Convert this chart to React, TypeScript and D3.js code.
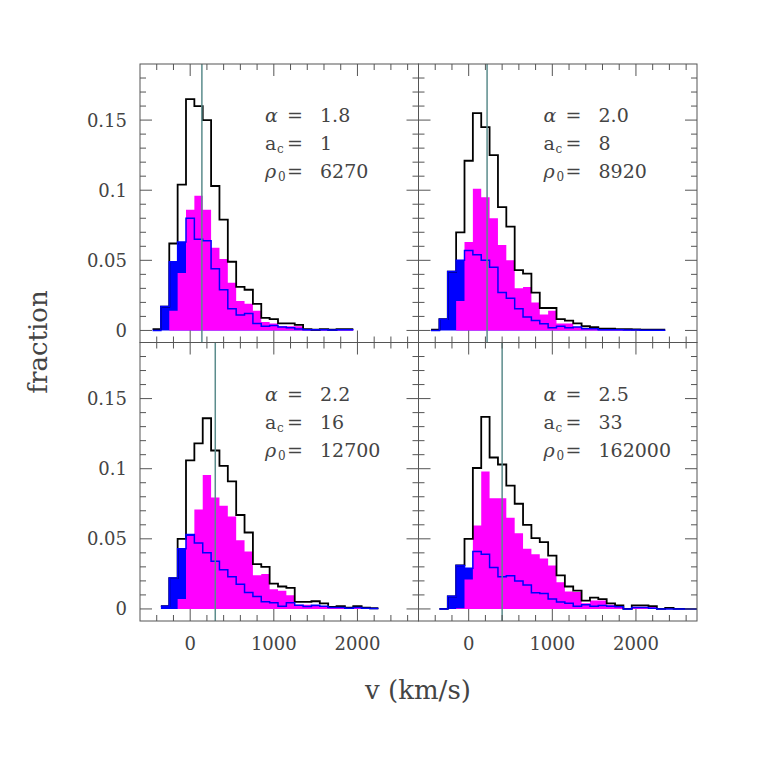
import React from "react";
import * as d3 from "d3";

const binCenters = [-400, -300, -200, -100, 0, 100, 200, 300, 400, 500, 600, 700, 800, 900, 1000, 1100, 1200, 1300, 1400, 1500, 1600, 1700, 1800, 1900, 2000, 2100, 2200, 2300, 2400, 2500, 2600, 2700];

const n = null;
// Panel 1: alpha 1.8
const blue1 = [0, 0.017, 0.049, 0.063, 0.080, 0.065, 0.064, 0.044, 0.029, 0.0155, 0.011, 0.012, 0.005, 0.003, 0.0035, 0.0025, 0.002, 0.001, 0.0005, 0.0005, 0.0005, 0.0003, 0.0005, 0.0005, n, n, n, n, n, n, n, n];
const magenta1 = [0, 0, 0.014, 0.041, 0.086, 0.096, 0.086, 0.059, 0.051, 0.034, 0.021, 0.019, 0.014, 0.006, 0.005, 0.003, 0.003, 0.003, 0.0008, 0.0005, 0.0008, 0.0005, 0.0008, 0.001, n, n, n, n, n, n, n, n];
const black1 = [0.001, 0.017, 0.062, 0.104, 0.165, 0.160, 0.150, 0.103, 0.079, 0.049, 0.031, 0.029, 0.019, 0.009, 0.008, 0.005, 0.005, 0.004, 0.001, 0.0005, 0.001, 0.0005, 0.001, 0.001, n, n, n, n, n, n, n, n];
// Panel 2: alpha 2.0
const blue2 = [0, 0.008, 0.042, 0.050, 0.057, 0.054, 0.050, 0.045, 0.027, 0.023, 0.0155, 0.0095, 0.007, 0.0048, 0.002, 0.003, 0.002, 0.0024, 0.0012, 0.0012, 0.0005, 0.0005, 0.0005, 0.0003, 0.0003, 0.0002, 0.0002, 0.0002, n, n, n, n];
const magenta2 = [0, 0, 0, 0.021, 0.063, 0.101, 0.095, 0.080, 0.061, 0.050, 0.030, 0.031, 0.020, 0.0114, 0.014, 0.005, 0.005, 0.0024, 0.0017, 0.001, 0.001, 0.001, 0.001, 0.001, 0.0005, 0.0005, 0.0005, 0.0003, n, n, n, n];
const black2 = [0.0005, 0.008, 0.042, 0.070, 0.121, 0.155, 0.145, 0.125, 0.088, 0.074, 0.043, 0.0405, 0.027, 0.016, 0.016, 0.008, 0.007, 0.005, 0.003, 0.0024, 0.0012, 0.0012, 0.001, 0.001, 0.0008, 0.0006, 0.0006, 0.0005, n, n, n, n];
// Panel 3: alpha 2.2
const blue3 = [n, 0.002, 0.022, 0.043, 0.053, 0.047, 0.040, 0.034, 0.028, 0.023, 0.0176, 0.0117, 0.0088, 0.0052, 0.0045, 0.002, 0.0045, 0.0026, 0.0017, 0.0026, 0.002, 0.001, 0.001, 0.0005, 0.001, 0.0005, 0.0003, n, n, n, n, n];
const magenta3 = [n, 0, 0, 0.007, 0.052, 0.071, 0.0955, 0.0795, 0.0736, 0.066, 0.049, 0.041, 0.024, 0.025, 0.014, 0.013, 0.0098, 0.003, 0.003, 0.002, 0.002, 0.001, 0.001, 0.0005, 0.001, 0.0005, 0.0003, n, n, n, n, n];
const black3 = [n, 0.002, 0.022, 0.050, 0.106, 0.118, 0.136, 0.113, 0.102, 0.091, 0.067, 0.0545, 0.032, 0.030, 0.018, 0.016, 0.015, 0.005, 0.005, 0.0055, 0.004, 0.0015, 0.002, 0.001, 0.002, 0.001, 0.0005, n, n, n, n, n];
// Panel 4: alpha 2.5
const blue4 = [n, 0, 0.009, 0.031, 0.029, 0.041, 0.039, 0.0295, 0.023, 0.0236, 0.020, 0.017, 0.0115, 0.011, 0.007, 0.005, 0.004, 0.002, 0.003, 0.002, 0.0025, 0.002, 0.0015, 0, 0.001, 0.001, 0.0005, 0, 0, 0, 0, 0];
const magenta4 = [n, 0, 0, 0.0005, 0.021, 0.0595, 0.098, 0.079, 0.079, 0.065, 0.054, 0.043, 0.039, 0.036, 0.031, 0.019, 0.0124, 0.012, 0.004, 0.006, 0.006, 0.003, 0.002, 0, 0.0015, 0.0015, 0.0015, 0, 0.0005, 0, 0, 0];
const black4 = [n, 0, 0.009, 0.031, 0.050, 0.1005, 0.137, 0.108, 0.103, 0.088, 0.075, 0.060, 0.0505, 0.0476, 0.038, 0.024, 0.016, 0.013, 0.006, 0.008, 0.007, 0.004, 0.0025, 0, 0.0025, 0.0025, 0.002, 0, 0.0007, 0, 0, 0];

const alphas = ["1.8", "2.0", "2.2", "2.5"];
const acs = ["1", "8", "16", "33"];
const rho0s = ["6270", "8920", "12700", "162000"];
const meanV = [140, 220, 300, 400];

const xTickLabels = [0, 1000, 2000];
const yTickLabels = [0, 0.05, 0.1, 0.15];
const yTickText = ["0", "0.05", "0.1", "0.15"];

const blues = [blue1, blue2, blue3, blue4];
const magentas = [magenta1, magenta2, magenta3, magenta4];
const blacks = [black1, black2, black3, black4];

const L = 140, MX = 418.5, R = 697, T = 64, MY = 342.5, B = 621;
const panels = [
  { x0: L, x1: MX, y0: T, y1: MY },
  { x0: MX, x1: R, y0: T, y1: MY },
  { x0: L, x1: MX, y0: MY, y1: B },
  { x0: MX, x1: R, y0: MY, y1: B },
];

const HALF = 50;
const frameColor = "#555";
const textColor = "#444";
const FONT = "'DejaVu Serif', serif";

function fillPath(vals: (number | null)[], x: any, y: any) {
  let d = "";
  let open = false;
  let lastX = 0;
  vals.forEach((v, i) => {
    const c = binCenters[i];
    if (v == null) {
      if (open) { d += `V${y(0)}Z`; open = false; }
      return;
    }
    if (!open) { d += `M${x(c - HALF)},${y(0)}`; open = true; }
    d += `V${y(v)}H${x(c + HALF)}`;
    lastX = x(c + HALF);
  });
  if (open) d += `V${y(0)}Z`;
  return d;
}

function stepPath(vals: (number | null)[], x: any, y: any) {
  let d = "";
  let open = false;
  vals.forEach((v, i) => {
    const c = binCenters[i];
    if (v == null) { open = false; return; }
    if (!open) { d += `M${x(c - HALF)},${y(v)}`; open = true; }
    else d += `V${y(v)}`;
    d += `H${x(c + HALF)}`;
  });
  return d;
}

function Panel({ idx }: { idx: number }) {
  const p = panels[idx];
  const x = d3.scaleLinear().domain([-600, 2730]).range([p.x0, p.x1]);
  const y = d3.scaleLinear().domain([-0.0086, 0.19]).range([p.y1, p.y0]);
  const clipId = `clip${idx}`;
  const xMinor = d3.range(-400, 2701, 200);
  const yMinor = d3.range(0, 0.1801, 0.01);
  const isMajorX = (v: number) => Math.abs(v % 1000) < 1e-6;
  const isMajorY = (v: number) => Math.abs(Math.round(v * 100) % 5) === 0;
  const tx = p.x0 + 125;
  const ty = p.y0 + 51;
  const fs = 19;
  return (
    <g>
      <defs>
        <clipPath id={clipId}>
          <rect x={p.x0} y={p.y0} width={p.x1 - p.x0} height={p.y1 - p.y0} />
        </clipPath>
      </defs>
      <g clipPath={`url(#${clipId})`}>
        <path d={fillPath(blues[idx], x, y)} fill="#0000ff" />
        <path d={fillPath(magentas[idx], x, y)} fill="#ff00ff" />
        <path d={stepPath(blacks[idx], x, y)} fill="none" stroke="#000" strokeWidth={1.8} />
        <path d={stepPath(blues[idx], x, y)} fill="none" stroke="#0000ff" strokeWidth={1.5} />
        <line x1={x(meanV[idx])} x2={x(meanV[idx])} y1={p.y0} y2={p.y1} stroke="#5b8c8c" strokeWidth={1.5} />
      </g>
      <rect x={p.x0} y={p.y0} width={p.x1 - p.x0} height={p.y1 - p.y0} fill="none" stroke={frameColor} strokeWidth={1} />
      {xMinor.map((v) => {
        const len = isMajorX(v) ? 12 : 6;
        return (
          <g key={`xt${v}`}>
            <line x1={x(v)} x2={x(v)} y1={p.y1} y2={p.y1 - len} stroke={frameColor} strokeWidth={1} />
            <line x1={x(v)} x2={x(v)} y1={p.y0} y2={p.y0 + len} stroke={frameColor} strokeWidth={1} />
          </g>
        );
      })}
      {yMinor.map((v) => {
        const len = isMajorY(v) ? 12 : 6;
        return (
          <g key={`yt${v.toFixed(2)}`}>
            <line x1={p.x0} x2={p.x0 + len} y1={y(v)} y2={y(v)} stroke={frameColor} strokeWidth={1} />
            <line x1={p.x1} x2={p.x1 - len} y1={y(v)} y2={y(v)} stroke={frameColor} strokeWidth={1} />
          </g>
        );
      })}
      {idx % 2 === 0 &&
        yTickLabels.map((v, i) => (
          <text key={`yl${i}`} x={p.x0 - 13} y={y(v)} textAnchor="end" dominantBaseline="central" fontFamily={FONT} fontSize={18} fill={textColor}>
            {yTickText[i]}
          </text>
        ))}
      {idx >= 2 &&
        xTickLabels.map((v) => (
          <text key={`xl${v}`} x={x(v)} y={p.y1 + 22} textAnchor="middle" dominantBaseline="central" fontFamily={FONT} fontSize={18} fill={textColor}>
            {v}
          </text>
        ))}
      <g fontFamily={FONT} fontSize={fs} fill={textColor}>
        <text x={tx} y={ty} dominantBaseline="central" fontStyle="italic">α</text>
        <text x={tx + 30} y={ty} dominantBaseline="central" textAnchor="middle">=</text>
        <text x={tx + 55} y={ty} dominantBaseline="central">{alphas[idx]}</text>

        <text x={tx} y={ty + 28} dominantBaseline="central">a</text>
        <text x={tx + 12} y={ty + 34} dominantBaseline="central" fontSize={12}>c</text>
        <text x={tx + 30} y={ty + 28} dominantBaseline="central" textAnchor="middle">=</text>
        <text x={tx + 55} y={ty + 28} dominantBaseline="central">{acs[idx]}</text>

        <text x={tx} y={ty + 56} dominantBaseline="central" fontStyle="italic">ρ</text>
        <text x={tx + 13} y={ty + 62} dominantBaseline="central" fontSize={12}>0</text>
        <text x={tx + 30} y={ty + 56} dominantBaseline="central" textAnchor="middle">=</text>
        <text x={tx + 55} y={ty + 56} dominantBaseline="central">{rho0s[idx]}</text>
      </g>
    </g>
  );
}

export default function App() {
  return (
    <svg width={761} height={761} viewBox="0 0 761 761" style={{ display: "block", position: "absolute", left: 0, top: 0, background: "#fff" }}>
      <rect x={0} y={0} width={761} height={761} fill="#fff" />
      {[0, 1, 2, 3].map((i) => (
        <Panel key={i} idx={i} />
      ))}
      <text x={38} y={342} transform="rotate(-90 38 342)" textAnchor="middle" dominantBaseline="central" fontFamily={FONT} fontSize={26} fill={textColor}>
        fraction
      </text>
      <text x={418} y={690} textAnchor="middle" dominantBaseline="central" fontFamily={FONT} fontSize={26} fill={textColor}>
        v (km/s)
      </text>
    </svg>
  );
}
